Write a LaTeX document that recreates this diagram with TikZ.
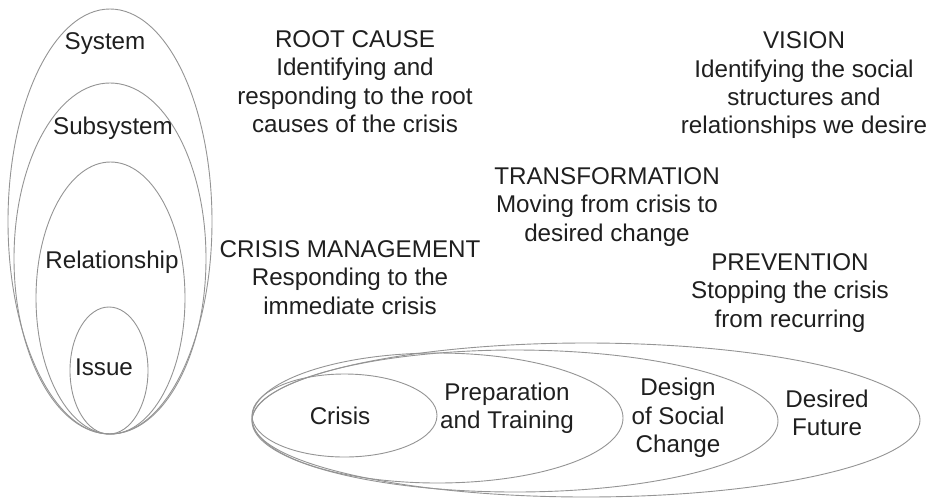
\documentclass[tikz,border=0pt]{standalone}
\usepackage{fontspec}
\setmainfont{Liberation Sans}
\tikzset{
	ring/.style={draw=black!42, line width=0.45pt},
	lbl/.style={text=black!88, font=\fontsize{12.1}{14.2}\selectfont, align=center, inner sep=0pt}
}

\begin{document}
\begin{tikzpicture}[x=0.5pt, y=-0.5pt]
			%%%%% START %%%%%
			
			\useasboundingbox (0, 0) rectangle (929, 498);
			
			% nested levels, all touching at the bottom
			\draw[ring] (110, 221.5) ellipse [x radius=102, y radius=212.5];
			\draw[ring] (110, 258.5) ellipse [x radius=96, y radius=175.5];
			\draw[ring] (110.5, 298) ellipse [x radius=74.5, y radius=136];
			\draw[ring] (109, 370.5) ellipse [x radius=39, y radius=63.5];
			
			\node[lbl] (system) at (105, 44) {System};
			\node[lbl] (subsystem) at (113, 128) {Subsystem};
			\node[lbl] (relationship) at (112, 262) {Relationship};
			\node[lbl] (issue) at (104, 367) {Issue};
			
			% time line, all touching at the left
			\draw[ring] (586, 420) ellipse [x radius=334, y radius=77];
			\draw[ring] (515, 421) ellipse [x radius=263, y radius=71];
			\draw[ring] (437.5, 418) ellipse [x radius=185.5, y radius=65];
			\draw[ring] (344.5, 415.5) ellipse [x radius=92.5, y radius=41.5];
			
			\node[lbl] (crisis) at (340, 416) {Crisis};
			\node[lbl] (prep) at (507, 408) {Preparation\\and Training};
			\node[lbl] (design) at (678, 418) {Design\\of Social\\Change};
			\node[lbl] (future) at (827, 413) {Desired\\Future};
			
			% approaches
			\node[lbl, anchor=north] (rootcause) at (355, 30) {ROOT CAUSE\\Identifying and\\responding to the root\\causes of the crisis};
			\node[lbl, anchor=north] (vision) at (804, 31.5) {VISION\\Identifying the social\\structures and\\relationships we desire};
			\node[lbl, anchor=north] (transform) at (607, 167) {TRANSFORMATION\\Moving from crisis to\\desired change};
			\node[lbl, anchor=north] (crisismgmt) at (350, 240) {CRISIS MANAGEMENT\\Responding to the\\immediate crisis};
			\node[lbl, anchor=north] (prevention) at (790, 253) {PREVENTION\\Stopping the crisis\\from recurring};
			
			%%%%% END %%%%%
\end{tikzpicture}
\end{document}
